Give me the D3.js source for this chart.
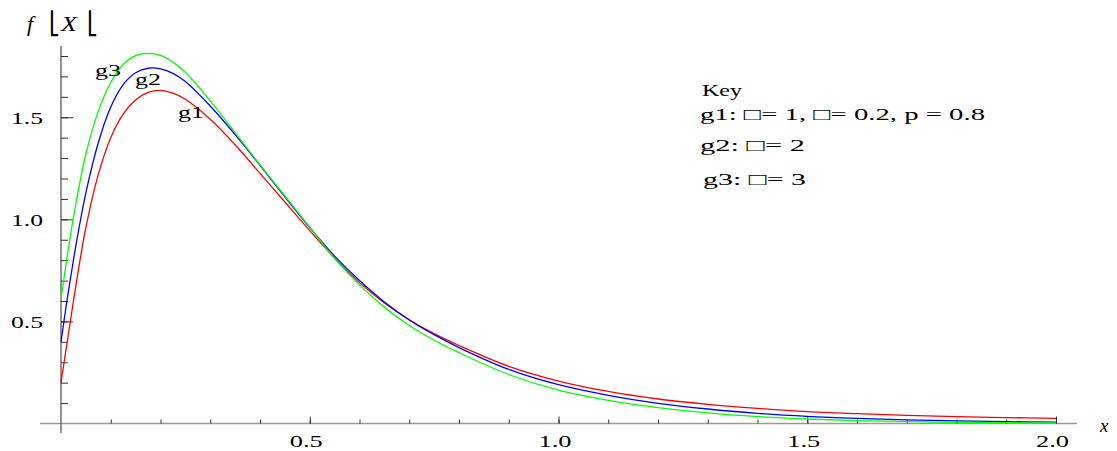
<!DOCTYPE html>
<html>
<head>
<meta charset="utf-8">
<script src="https://cdn.jsdelivr.net/npm/d3@7"></script>
<style>
  body { margin: 0; background: #fff; }
  svg { display: block; }
  text { font-family: "Liberation Serif", "Times New Roman", serif; fill: #000; }
</style>
</head>
<body>
<svg class="chart"></svg>
<script>
// x values, shared by the three curves
var xs = [0, 0.0125, 0.025, 0.0375, 0.05, 0.075, 0.1, 0.125, 0.15, 0.175, 0.2, 0.225, 0.25, 0.3, 0.35,
          0.4, 0.45, 0.5, 0.55, 0.6, 0.65, 0.7, 0.75, 0.8, 0.9, 1.0, 1.1, 1.2, 1.3, 1.4, 1.5, 1.6, 1.7, 1.8, 1.9, 2.0];

var g1 = [0.20, 0.40, 0.60, 0.79, 0.96, 1.22, 1.40, 1.515, 1.585, 1.622, 1.632, 1.618, 1.588, 1.49, 1.365,
          1.225, 1.085, 0.945, 0.81, 0.69, 0.59, 0.508, 0.44, 0.382, 0.28, 0.208, 0.157, 0.12, 0.094, 0.074,
          0.058, 0.048, 0.040, 0.034, 0.029, 0.025];
var g2 = [0.40, 0.61, 0.80, 0.975, 1.13, 1.375, 1.55, 1.66, 1.718, 1.74, 1.737, 1.715, 1.675, 1.555, 1.415,
          1.265, 1.11, 0.96, 0.82, 0.70, 0.595, 0.507, 0.435, 0.372, 0.265, 0.19, 0.138, 0.099, 0.071, 0.050,
          0.035, 0.025, 0.018, 0.013, 0.009, 0.007];
var g3 = [0.61, 0.82, 1.01, 1.175, 1.32, 1.53, 1.67, 1.758, 1.802, 1.813, 1.803, 1.77, 1.72, 1.58, 1.425,
          1.267, 1.115, 0.962, 0.808, 0.68, 0.57, 0.48, 0.408, 0.347, 0.24, 0.163, 0.113, 0.078, 0.052, 0.034,
          0.022, 0.014, 0.009, 0.006, 0.004, 0.003];

var xMajor = [0.5, 1.0, 1.5, 2.0];
var yMajor = [0.5, 1.0, 1.5];
var keyLines = ["Key", "g1: \u25A1= 1, \u25A1= 0.2, p = 0.8", "g2: \u25A1= 2", "g3: \u25A1= 3"];

var width = 1117,
    height = 451;

var x = d3.scaleLinear().domain([0, 2]).range([61, 1056]);
var y = d3.scaleLinear().domain([0, 1.8]).range([423.5, 56]);

var chart = d3.select(".chart")
    .attr("width", width)
    .attr("height", height);

// axis lines
chart.append("line")
    .attr("x1", 40).attr("x2", 1077)
    .attr("y1", y(0)).attr("y2", y(0))
    .attr("stroke", "#9a9a9a").attr("stroke-width", 1.6);
chart.append("line")
    .attr("x1", x(0)).attr("x2", x(0))
    .attr("y1", 46).attr("y2", 433)
    .attr("stroke", "#666").attr("stroke-width", 1.4);

// x ticks: minor every 0.1, major with labels
var xMinor = chart.append("g")
    .attr("transform", "translate(0," + y(0) + ")")
    .call(d3.axisBottom(x).tickValues(d3.range(1, 21).map(function(i) { return i / 10; }))
      .tickSizeInner(-4).tickSizeOuter(0).tickFormat(""));
var xAxis = chart.append("g")
    .attr("transform", "translate(0," + y(0) + ")")
    .call(d3.axisBottom(x).tickValues(xMajor).tickSizeInner(-7).tickSizeOuter(0)
      .tickFormat(d3.format(".1f")).tickPadding(0));

// y ticks pointing into the plot
var yMinor = chart.append("g")
    .attr("transform", "translate(" + x(0) + ",0)")
    .call(d3.axisLeft(y).tickValues(d3.range(1, 19).map(function(i) { return i / 10; }))
      .tickSizeInner(-7).tickSizeOuter(0).tickFormat(""));
var yAxis = chart.append("g")
    .attr("transform", "translate(" + x(0) + ",0)")
    .call(d3.axisLeft(y).tickValues(yMajor).tickSizeInner(-12).tickSizeOuter(0)
      .tickFormat(d3.format(".1f")).tickPadding(18));

chart.selectAll(".domain").remove();
chart.selectAll(".tick line").attr("stroke", "#333").attr("stroke-width", 1);

xAxis.selectAll("text")
    .attr("y", 23).attr("dy", 0).attr("dx", -4)
    .attr("font-size", 16)
    .attr("textLength", 33).attr("lengthAdjust", "spacingAndGlyphs");
yAxis.selectAll("text")
    .attr("dy", 6)
    .attr("font-size", 16)
    .attr("textLength", 32).attr("lengthAdjust", "spacingAndGlyphs");
chart.selectAll(".tick text").style("font-family", "Liberation Serif, serif").attr("fill", "#000");

// curves
var series = [
  { name: "g1", values: g1, color: "#ff0000" },
  { name: "g2", values: g2, color: "#0000ff" },
  { name: "g3", values: g3, color: "#00ff00" }
];

var line = d3.line()
    .x(function(d) { return x(d[0]); })
    .y(function(d) { return y(d[1]); })
    .curve(d3.curveCatmullRom.alpha(0.5));

chart.selectAll(".curve")
    .data(series)
  .enter().append("path")
    .attr("class", "curve")
    .attr("fill", "none")
    .attr("stroke", function(d) { return d.color; })
    .attr("stroke-width", 1.3)
    .attr("d", function(d) { return line(xs.map(function(v, i) { return [v, d.values[i]]; })); });

// curve labels
var labelPos = [[178, 118], [135, 85], [95, 76]];
chart.selectAll(".clabel")
    .data(series)
  .enter().append("text")
    .attr("class", "clabel")
    .attr("x", function(d, i) { return labelPos[i][0]; })
    .attr("y", function(d, i) { return labelPos[i][1]; })
    .attr("font-size", 17)
    .attr("textLength", 26).attr("lengthAdjust", "spacingAndGlyphs")
    .text(function(d) { return d.name; });

// key
var keyPos = [[702, 96, 40], [700, 120, 285], [700, 151, 105], [703, 185, 103]];
chart.selectAll(".key")
    .data(keyLines)
  .enter().append("text")
    .attr("class", "key")
    .attr("x", function(d, i) { return keyPos[i][0]; })
    .attr("y", function(d, i) { return keyPos[i][1]; })
    .attr("font-size", 17)
    .attr("textLength", function(d, i) { return keyPos[i][2]; })
    .attr("lengthAdjust", "spacingAndGlyphs")
    .text(function(d) { return d; });

// axis titles
chart.append("text")
    .attr("x", 1100).attr("y", 432)
    .attr("font-size", 19).attr("font-style", "italic")
    .text("x");

chart.append("text")
    .attr("x", 27).attr("y", 31)
    .attr("font-size", 22).attr("font-style", "italic")
    .text("f");
chart.append("text")
    .attr("x", 49).attr("y", 31)
    .attr("font-size", 22)
    .attr("textLength", 11).attr("lengthAdjust", "spacingAndGlyphs")
    .style("font-family", "DejaVu Sans")
    .text("\u23A3");
chart.append("text")
    .attr("x", 61).attr("y", 31)
    .attr("font-size", 20).attr("font-style", "italic")
    .attr("textLength", 16).attr("lengthAdjust", "spacingAndGlyphs")
    .text("X");
chart.append("text")
    .attr("x", 87).attr("y", 31)
    .attr("font-size", 22)
    .attr("textLength", 11).attr("lengthAdjust", "spacingAndGlyphs")
    .style("font-family", "DejaVu Sans")
    .text("\u23A3");
</script>
</body>
</html>
